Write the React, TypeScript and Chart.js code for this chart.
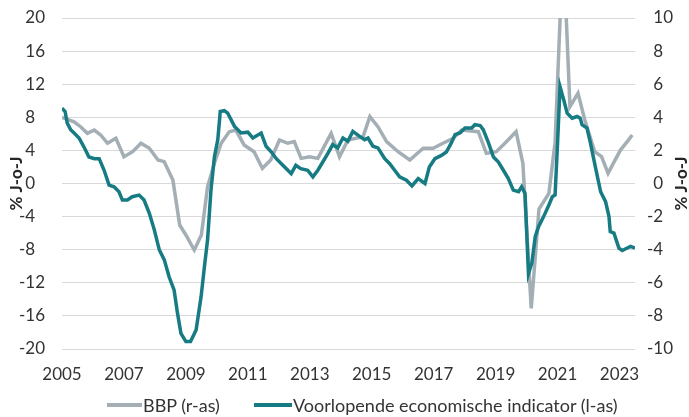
import React, { useEffect, useRef } from "react";
import { Chart, registerables } from "chart.js";

Chart.register(...registerables);

// ---- Data ----
const xTickYears = [2005, 2007, 2009, 2011, 2013, 2015, 2017, 2019, 2021, 2023];

const bbpLabel = "BBP (r-as)";
const bbpYears = [
  2005.0, 2005.39, 2005.6, 2005.82, 2006.04, 2006.25, 2006.47, 2006.74, 2007.0, 2007.28,
  2007.55, 2007.82, 2008.1, 2008.3, 2008.58, 2008.8, 2009.0, 2009.27, 2009.5, 2009.7,
  2009.92, 2010.14, 2010.4, 2010.61, 2010.88, 2011.2, 2011.47, 2011.74, 2012.02, 2012.29,
  2012.5, 2012.72, 2012.99, 2013.26, 2013.69, 2013.96, 2014.23, 2014.72, 2014.94, 2015.2,
  2015.48, 2015.85, 2016.23, 2016.66, 2016.98, 2017.3, 2017.63, 2017.9, 2018.44, 2018.7,
  2019.02, 2019.3, 2019.66, 2019.88, 2020.15, 2020.4, 2020.72, 2020.92, 2021.18, 2021.4,
  2021.66, 2021.88, 2022.2, 2022.42, 2022.63, 2022.8, 2023.03, 2023.25, 2023.41,
];
const bbpValues = [
  4.0, 3.73, 3.43, 3.03, 3.23, 2.93, 2.43, 2.73, 1.62, 1.92,
  2.43, 2.13, 1.42, 1.32, 0.21, -2.51, -3.11, -4.02, -3.11, -0.2,
  1.22, 2.43, 3.13, 3.23, 2.33, 1.92, 0.92, 1.42, 2.63, 2.43,
  2.53, 1.52, 1.62, 1.52, 3.03, 1.62, 2.63, 2.83, 4.04, 3.43,
  2.53, 1.92, 1.42, 2.13, 2.13, 2.43, 2.73, 3.23, 3.13, 1.82,
  1.92, 2.43, 3.13, 1.22, -7.54, -1.55, -0.6, 2.5, 14.5, 4.64,
  5.45, 3.84, 1.92, 1.62, 0.62, 1.22, 2.02, 2.53, 2.93,
];

const vooLabel = "Voorlopende economische indicator (l-as)";
const vooYears = [
  2005.0, 2005.1, 2005.17, 2005.28, 2005.39, 2005.55, 2005.71, 2005.87, 2006.05, 2006.2,
  2006.36, 2006.52, 2006.68, 2006.84, 2006.95, 2007.11, 2007.27, 2007.49, 2007.65, 2007.82,
  2007.98, 2008.14, 2008.3, 2008.46, 2008.62, 2008.73, 2008.84, 2009.0, 2009.15, 2009.33,
  2009.49, 2009.6, 2009.7, 2009.81, 2009.92, 2010.03, 2010.11, 2010.24, 2010.35, 2010.57,
  2010.78, 2011.0, 2011.16, 2011.43, 2011.59, 2011.76, 2011.92, 2012.13, 2012.4, 2012.55,
  2012.71, 2012.93, 2013.1, 2013.26, 2013.42, 2013.58, 2013.74, 2013.9, 2014.07, 2014.23,
  2014.39, 2014.61, 2014.77, 2014.88, 2015.04, 2015.2, 2015.42, 2015.58, 2015.74, 2015.9,
  2016.12, 2016.3, 2016.5, 2016.72, 2016.86, 2017.04, 2017.25, 2017.41, 2017.57, 2017.69,
  2017.85, 2018.01, 2018.23, 2018.33, 2018.5, 2018.6, 2018.77, 2018.93, 2019.09, 2019.25,
  2019.41, 2019.57, 2019.74, 2019.84, 2019.95, 2020.06, 2020.17, 2020.28, 2020.39, 2020.55,
  2020.72, 2020.83, 2020.92, 2021.0, 2021.08, 2021.2, 2021.31, 2021.47, 2021.63, 2021.73,
  2021.79, 2021.95, 2022.06, 2022.22, 2022.39, 2022.55, 2022.66, 2022.7, 2022.82, 2022.98,
  2023.09, 2023.25, 2023.36, 2023.5,
];
const vooValues = [
  9.1, 8.7, 7.3, 6.5, 6.1, 5.5, 4.4, 3.2, 3.0, 3.0,
  1.6, -0.2, -0.4, -1.0, -2.0, -2.0, -1.6, -1.4, -2.0, -3.6,
  -5.6, -8.0, -9.2, -11.3, -12.9, -15.7, -18.1, -19.1, -19.1, -17.7,
  -13.7, -10.0, -6.8, -0.8, 3.2, 5.3, 8.7, 8.8, 8.5, 6.9,
  6.1, 6.2, 5.5, 6.1, 4.5, 3.8, 3.0, 2.2, 1.2, 2.2,
  1.8, 1.6, 0.8, 1.6, 2.6, 3.6, 4.7, 4.3, 5.5, 5.1,
  6.3, 5.7, 5.3, 5.5, 4.5, 4.3, 3.0, 2.4, 1.6, 0.8,
  0.4, -0.3, 0.6, 0.0, 2.0, 3.0, 3.4, 3.8, 4.9, 5.9,
  6.1, 6.7, 6.7, 7.1, 7.0, 6.5, 4.9, 3.2, 2.6, 1.6,
  0.6, -0.8, -1.0, -0.4, -1.2, -10.9, -9.6, -6.4, -5.2, -4.0,
  -2.6, -1.6, -1.4, 4.9, 11.7, 10.1, 8.5, 7.9, 8.1, 7.9,
  7.1, 6.7, 4.9, 2.0, -1.0, -2.2, -4.0, -5.8, -6.0, -7.8,
  -8.1, -7.8, -7.6, -7.8,
];

const axisTitle = "% J-o-J";

// ---- Styles ----
const BBP_COLOR = "#a3aeb5";
const VOO_COLOR = "#167b83";
const TICK_COLOR = "#333333";
const GRID_COLOR = "#d9d9d9";
const FONT = "Lato";
const FIG = "\u2007";

const fmt = (v: number) => (Math.abs(v) < 10 ? `${v}${FIG}` : `${v}`);

const axisTitlesPlugin = {
  id: "axisTitles",
  afterDraw(chart: any) {
    const { ctx, chartArea } = chart;
    const cy = (chartArea.top + chartArea.bottom) / 2;
    ctx.save();
    ctx.font = `bold 17px ${FONT}`;
    ctx.fillStyle = "#262626";
    ctx.textAlign = "center";
    ctx.textBaseline = "middle";
    for (const x of [17, 682]) {
      ctx.save();
      ctx.translate(x, cy);
      ctx.rotate(-Math.PI / 2);
      ctx.fillText(axisTitle, 0, 0);
      ctx.restore();
    }
    ctx.restore();
  },
};

export default function App() {
  const canvasRef = useRef<HTMLCanvasElement | null>(null);

  useEffect(() => {
    if (!canvasRef.current) return;
    const chart = new Chart(canvasRef.current, {
      type: "line",
      data: {
        datasets: [
          {
            label: bbpLabel,
            data: bbpYears.map((x, i) => ({ x, y: bbpValues[i] })),
            borderColor: BBP_COLOR,
            backgroundColor: BBP_COLOR,
            borderWidth: 3.5,
            pointRadius: 0,
            tension: 0,
            yAxisID: "yR",
            order: 1,
            clip: 0,
          },
          {
            label: vooLabel,
            data: vooYears.map((x, i) => ({ x, y: vooValues[i] })),
            borderColor: VOO_COLOR,
            backgroundColor: VOO_COLOR,
            borderWidth: 3.5,
            pointRadius: 0,
            tension: 0,
            yAxisID: "yL",
            order: 0,
            clip: 0,
          },
        ],
      },
      options: {
        animation: false,
        responsive: true,
        maintainAspectRatio: false,
        layout: { padding: { top: 18, right: 16, bottom: 32, left: 0 } },
        plugins: {
          legend: { display: false },
          tooltip: { enabled: false },
        },
        scales: {
          x: {
            type: "linear",
            min: 2005,
            max: 2023.5,
            grid: { display: false, drawTicks: false },
            border: { display: false },
            afterBuildTicks: (scale: any) => {
              scale.ticks = xTickYears.map((v) => ({ value: v }));
            },
            afterFit: (scale: any) => {
              scale.height = 36;
              scale.paddingLeft = 0;
              scale.paddingRight = 0;
            },
            ticks: {
              autoSkip: false,
              maxRotation: 0,
              padding: 15,
              color: TICK_COLOR,
              font: { family: FONT, size: 17 },
              callback: (v: any) => String(v),
            },
          },
          yL: {
            position: "left",
            min: -20,
            max: 20,
            grid: { color: GRID_COLOR, lineWidth: 1, drawTicks: false },
            border: { display: false },
            afterFit: (scale: any) => {
              scale.width = 62;
              scale.paddingTop = 0;
              scale.paddingBottom = 0;
            },
            ticks: {
              stepSize: 4,
              padding: 17,
              color: TICK_COLOR,
              font: { family: FONT, size: 17 },
              callback: (v: any) => fmt(Number(v)),
            },
          },
          yR: {
            position: "right",
            min: -10,
            max: 10,
            grid: { display: false, drawTicks: false },
            border: { display: false },
            afterFit: (scale: any) => {
              scale.width = 38;
              scale.paddingTop = 0;
              scale.paddingBottom = 0;
            },
            ticks: {
              stepSize: 2,
              crossAlign: "far",
              color: TICK_COLOR,
              font: { family: FONT, size: 17 },
              callback: (v: any) => fmt(Number(v)),
            },
          },
        },
      },
      plugins: [axisTitlesPlugin],
    });
    return () => chart.destroy();
  }, []);

  const legendText: React.CSSProperties = {
    fontFamily: FONT,
    fontSize: 18,
    color: "#333333",
    whiteSpace: "nowrap",
    lineHeight: "20px",
  };
  const swatch = (color: string, w: number): React.CSSProperties => ({
    display: "inline-block",
    width: w,
    height: 4,
    background: color,
    marginRight: 1,
    verticalAlign: "middle",
  });

  return (
    <div style={{ position: "fixed", left: 0, top: 0, width: 689, height: 417, background: "#fff" }}>
      <canvas ref={canvasRef} />
      <div style={{ position: "absolute", top: 395, left: 107, display: "flex", alignItems: "center" }}>
        <span style={swatch(BBP_COLOR, 35)} />
        <span style={legendText}>{bbpLabel}</span>
      </div>
      <div style={{ position: "absolute", top: 395, left: 254, display: "flex", alignItems: "center" }}>
        <span style={swatch(VOO_COLOR, 38)} />
        <span style={legendText}>{vooLabel}</span>
      </div>
    </div>
  );
}
